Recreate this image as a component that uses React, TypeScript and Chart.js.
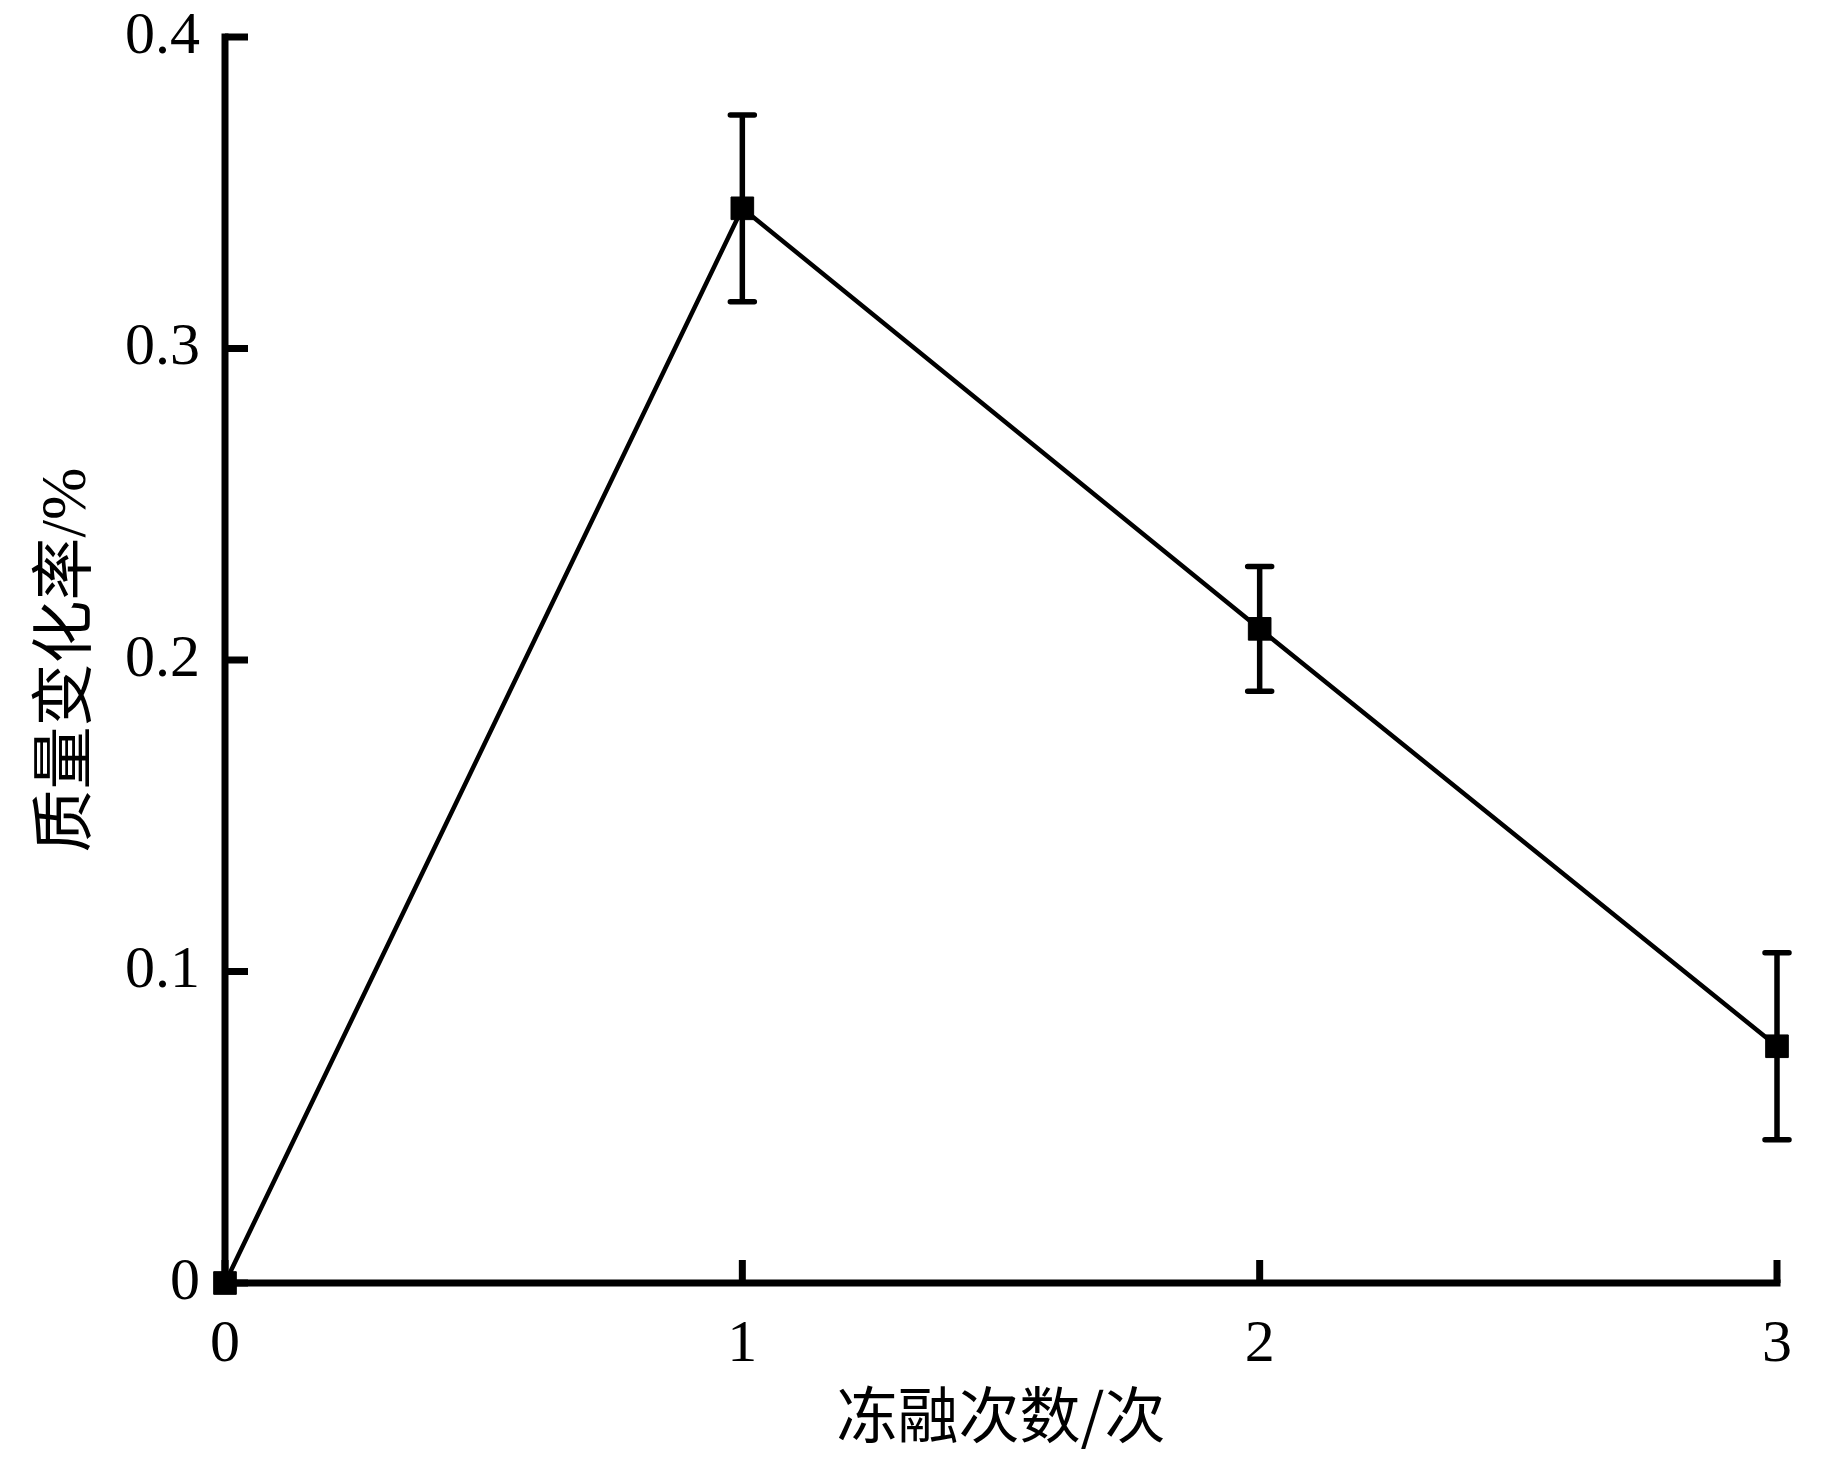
import React, { useEffect, useRef } from "react";
import { Chart, registerables } from "chart.js";

Chart.register(...registerables);

const cycles = [0, 1, 2, 3];
const massChangeRate = [0, 0.345, 0.21, 0.076];
const errorValues = [0, 0.03, 0.02, 0.03];
const xTickValues = [0, 1, 2, 3];
const yTickValues = [0, 0.1, 0.2, 0.3, 0.4];
const xTitle = "冻融次数/次";
const yTitle = "质量变化率/%";

const axesPlugin = {
  id: "axesPlugin",
  beforeDatasetsDraw(chart: any) {
    const { ctx, chartArea, scales } = chart;
    const xs = scales.x;
    const ys = scales.y;
    ctx.save();
    ctx.strokeStyle = "#000";
    ctx.lineCap = "square";
    ctx.lineWidth = 7;
    ctx.beginPath();
    ctx.moveTo(chartArea.left, chartArea.top);
    ctx.lineTo(chartArea.left, chartArea.bottom);
    ctx.lineTo(chartArea.right, chartArea.bottom);
    ctx.stroke();
    ctx.lineCap = "butt";
    ctx.lineWidth = 7;
    const tl = 23;
    yTickValues.forEach((v) => {
      const y = ys.getPixelForValue(v);
      ctx.beginPath();
      ctx.moveTo(chartArea.left, y);
      ctx.lineTo(chartArea.left + tl, y);
      ctx.stroke();
    });
    xTickValues.forEach((v) => {
      const x = xs.getPixelForValue(v);
      ctx.beginPath();
      ctx.moveTo(x, chartArea.bottom);
      ctx.lineTo(x, chartArea.bottom - tl);
      ctx.stroke();
    });
    ctx.restore();
  },
  afterDatasetsDraw(chart: any) {
    const { ctx, scales } = chart;
    const xs = scales.x;
    const ys = scales.y;
    ctx.save();
    ctx.strokeStyle = "#000";
    ctx.lineWidth = 5.5;
    ctx.lineCap = "round";
    cycles.forEach((c, i) => {
      const e = errorValues[i];
      if (!e) return;
      const x = xs.getPixelForValue(c);
      const yTop = ys.getPixelForValue(massChangeRate[i] + e);
      const yBot = ys.getPixelForValue(massChangeRate[i] - e);
      const half = 12;
      ctx.beginPath();
      ctx.moveTo(x, yTop);
      ctx.lineTo(x, yBot);
      ctx.moveTo(x - half, yTop);
      ctx.lineTo(x + half, yTop);
      ctx.moveTo(x - half, yBot);
      ctx.lineTo(x + half, yBot);
      ctx.stroke();
    });
    ctx.restore();
  },
};

export default function App() {
  const canvasRef = useRef<HTMLCanvasElement | null>(null);

  useEffect(() => {
    document.body.style.margin = "0";
    const canvas = canvasRef.current;
    if (!canvas) return;
    const chart = new Chart(canvas, {
      type: "line",
      data: {
        datasets: [
          {
            data: cycles.map((c, i) => ({ x: c, y: massChangeRate[i] })),
            borderColor: "#000",
            backgroundColor: "#000",
            borderWidth: 4.5,
            pointStyle: "rect",
            pointRadius: 16,
            pointBorderWidth: 1,
            pointBackgroundColor: "#000",
            pointBorderColor: "#000",
            tension: 0,
            clip: false,
          } as any,
        ],
      },
      options: {
        animation: false,
        responsive: false,
        maintainAspectRatio: false,
        devicePixelRatio: 1,
        layout: { padding: { left: 0, top: 37, right: 66, bottom: 0 } },
        plugins: {
          legend: { display: false },
          tooltip: { enabled: false },
        },
        scales: {
          x: {
            type: "linear",
            min: 0,
            max: 3,
            afterFit: (s: any) => {
              s.height = 175;
              s.paddingLeft = 0;
              s.paddingRight = 0;
            },
            afterBuildTicks: (s: any) => {
              s.ticks = xTickValues.map((v) => ({ value: v }));
            },
            grid: { display: false, drawTicks: false },
            border: { display: false },
            ticks: {
              color: "#000",
              padding: 26,
              font: { family: "'Liberation Serif', 'Times New Roman', serif", size: 60 },
              callback: (v: any) => String(v),
            },
            title: {
              display: true,
              text: xTitle,
              color: "#000",
              padding: { top: 0, bottom: 7 },
              font: { family: "'Noto Sans CJK SC', sans-serif", size: 61 },
            },
          },
          y: {
            type: "linear",
            min: 0,
            max: 0.4,
            afterFit: (s: any) => {
              s.width = 225;
              s.paddingTop = 0;
              s.paddingBottom = 0;
            },
            afterBuildTicks: (s: any) => {
              s.ticks = yTickValues.map((v) => ({ value: v }));
            },
            grid: { display: false, drawTicks: false },
            border: { display: false },
            ticks: {
              color: "#000",
              padding: 25,
              font: { family: "'Liberation Serif', 'Times New Roman', serif", size: 60 },
              callback: (v: any) => String(Math.round(Number(v) * 10) / 10),
            },
            title: {
              display: true,
              text: yTitle,
              color: "#000",
              padding: { top: 31, bottom: 0 },
              font: { family: "'Liberation Serif', 'Noto Sans CJK SC', serif", size: 63 },
            },
          },
        },
      } as any,
      plugins: [axesPlugin],
    });
    return () => chart.destroy();
  }, []);

  return (
    <div style={{ position: "absolute", left: 0, top: 0, width: 1843, height: 1458, background: "#fff" }}>
      <canvas ref={canvasRef} width={1843} height={1458} style={{ width: 1843, height: 1458, display: "block" }} />
    </div>
  );
}
